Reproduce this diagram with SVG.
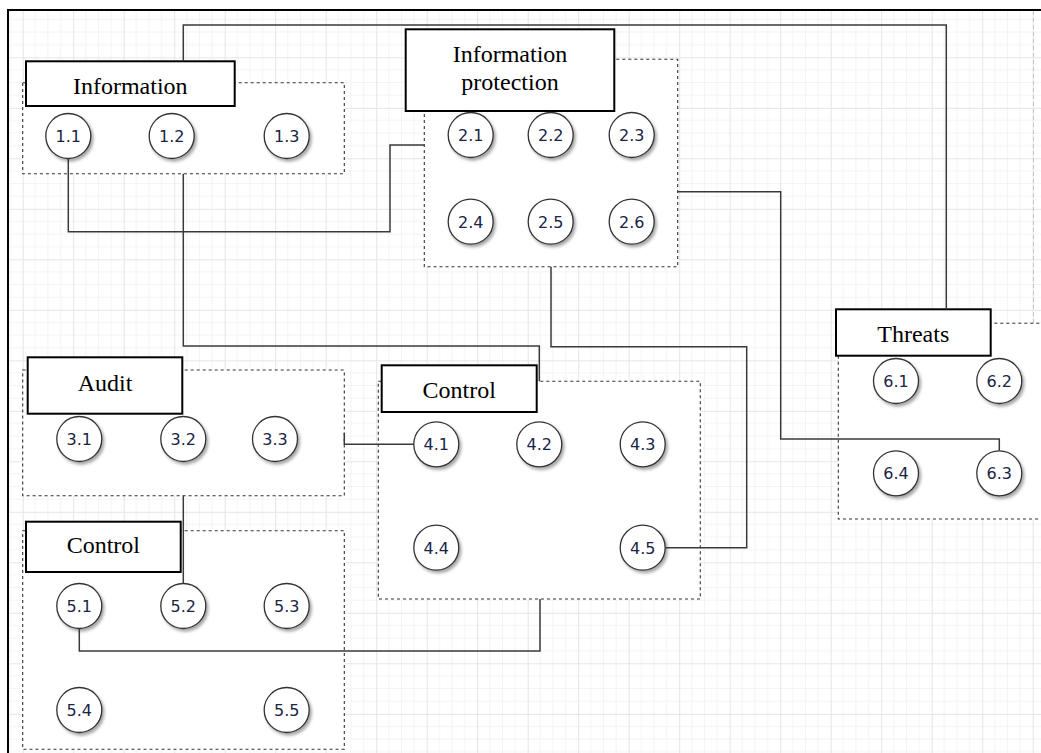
<svg xmlns="http://www.w3.org/2000/svg" width="1041" height="753" viewBox="0 0 1041 753">
  <defs>
    <pattern id="grid" patternUnits="userSpaceOnUse" x="22.7" y="6.8" width="50.5" height="50.5">
      <path d="M12.625 0V50.5M25.25 0V50.5M37.875 0V50.5M0 12.625H50.5M0 25.25H50.5M0 37.875H50.5" stroke="#f3f3f3" stroke-width="1" fill="none"/>
      <path d="M0.5 0V50.5M0 0.5H50.5" stroke="#e5e5e5" stroke-width="1" fill="none"/>
    </pattern>
    <filter id="shadow" x="-30%" y="-30%" width="170%" height="170%">
      <feDropShadow dx="2" dy="2.5" stdDeviation="1.4" flood-color="#000" flood-opacity="0.35"/>
    </filter>
  </defs>
  <style>
    .area { fill: #fff; stroke: #333; stroke-width: 1.1; stroke-dasharray: 3 3; }
    .title { fill: #fff; stroke: #000; stroke-width: 2; }
    .title-text { font-family: "Liberation Serif", "Times New Roman", serif; font-size: 24px; fill: #000; text-anchor: middle; }
    .item circle { fill: #fff; stroke: #333; stroke-width: 1.3; filter: url(#shadow); }
    .item text { font-family: "DejaVu Sans", Verdana, sans-serif; font-size: 16px; fill: #1a2446; text-anchor: middle; }
    .link { fill: none; stroke: #3a3a3a; stroke-width: 1.5; }
  </style>

  <!-- canvas -->
  <rect width="1041" height="753" fill="#fff"/>
  <rect x="8" y="10" width="1033" height="743" fill="url(#grid)"/>
  <path d="M8 753V10H1041" fill="none" stroke="#000" stroke-width="2"/>
  <path d="M1033.5 11V323" fill="none" stroke="#c4c4c4" stroke-width="1" stroke-dasharray="4 3"/>

  <!-- Information -->
  <g id="information">
    <rect class="area" x="22.7" y="82.7" width="321.6" height="91"/>
    <rect class="title" x="26" y="61.3" width="208.7" height="44.7"/>
    <text class="title-text" x="130.3" y="94">Information</text>
    <g id="n1-1" class="item"><circle cx="68.3" cy="136" r="22.5"/><text x="68.3" y="141.8">1.1</text></g>
    <g id="n1-2" class="item"><circle cx="171.7" cy="136" r="22.5"/><text x="171.7" y="141.8">1.2</text></g>
    <g id="n1-3" class="item"><circle cx="286.7" cy="136" r="22.5"/><text x="286.7" y="141.8">1.3</text></g>
  </g>

  <!-- Information protection -->
  <g id="information-protection">
    <rect class="area" x="424.3" y="59.3" width="253.4" height="207.4"/>
    <rect class="title" x="405.7" y="29.3" width="208.6" height="81.7"/>
    <text class="title-text" x="510" y="62">Information</text>
    <text class="title-text" x="510" y="90">protection</text>
    <g id="n2-1" class="item"><circle cx="470.7" cy="135" r="22.5"/><text x="470.7" y="140.8">2.1</text></g>
    <g id="n2-2" class="item"><circle cx="550.7" cy="135" r="22.5"/><text x="550.7" y="140.8">2.2</text></g>
    <g id="n2-3" class="item"><circle cx="631.7" cy="135" r="22.5"/><text x="631.7" y="140.8">2.3</text></g>
    <g id="n2-4" class="item"><circle cx="470.7" cy="221.7" r="22.5"/><text x="470.7" y="227.5">2.4</text></g>
    <g id="n2-5" class="item"><circle cx="550.7" cy="221.7" r="22.5"/><text x="550.7" y="227.5">2.5</text></g>
    <g id="n2-6" class="item"><circle cx="631.7" cy="221.7" r="22.5"/><text x="631.7" y="227.5">2.6</text></g>
  </g>

  <!-- Audit -->
  <g id="audit">
    <rect class="area" x="22.7" y="370" width="321.6" height="125.7"/>
    <rect class="title" x="27.7" y="357.3" width="154.6" height="56.4"/>
    <text class="title-text" x="105" y="390.7">Audit</text>
    <g id="n3-1" class="item"><circle cx="79.3" cy="439" r="22.5"/><text x="79.3" y="444.8">3.1</text></g>
    <g id="n3-2" class="item"><circle cx="183.3" cy="439" r="22.5"/><text x="183.3" y="444.8">3.2</text></g>
    <g id="n3-3" class="item"><circle cx="275" cy="439" r="22.5"/><text x="275" y="444.8">3.3</text></g>
  </g>

  <!-- Control (4.x) -->
  <g id="control-4">
    <rect class="area" x="378.3" y="381.3" width="322" height="217.7"/>
    <rect class="title" x="381.7" y="365.3" width="155" height="46.7"/>
    <text class="title-text" x="459.2" y="397.7">Control</text>
    <g id="n4-1" class="item"><circle cx="436.3" cy="444.3" r="22.5"/><text x="436.3" y="450.1">4.1</text></g>
    <g id="n4-2" class="item"><circle cx="539.3" cy="444.3" r="22.5"/><text x="539.3" y="450.1">4.2</text></g>
    <g id="n4-3" class="item"><circle cx="642.7" cy="444.3" r="22.5"/><text x="642.7" y="450.1">4.3</text></g>
    <g id="n4-4" class="item"><circle cx="436.3" cy="547.7" r="22.5"/><text x="436.3" y="553.5">4.4</text></g>
    <g id="n4-5" class="item"><circle cx="642.7" cy="547.7" r="22.5"/><text x="642.7" y="553.5">4.5</text></g>
  </g>

  <!-- Control (5.x) -->
  <g id="control-5">
    <rect class="area" x="22.7" y="530.7" width="321.6" height="218.6"/>
    <rect class="title" x="26" y="521.7" width="154.7" height="50.3"/>
    <text class="title-text" x="103.3" y="553.3">Control</text>
    <g id="n5-1" class="item"><circle cx="79.3" cy="606" r="22.5"/><text x="79.3" y="611.8">5.1</text></g>
    <g id="n5-2" class="item"><circle cx="183.3" cy="606" r="22.5"/><text x="183.3" y="611.8">5.2</text></g>
    <g id="n5-3" class="item"><circle cx="286.7" cy="606" r="22.5"/><text x="286.7" y="611.8">5.3</text></g>
    <g id="n5-4" class="item"><circle cx="79.3" cy="710" r="22.5"/><text x="79.3" y="715.8">5.4</text></g>
    <g id="n5-5" class="item"><circle cx="286.7" cy="710" r="22.5"/><text x="286.7" y="715.8">5.5</text></g>
  </g>

  <!-- Threats -->
  <g id="threats">
    <rect class="area" x="838.3" y="323.3" width="215" height="195.7"/>
    <rect class="title" x="836" y="309.3" width="154.7" height="46.4"/>
    <text class="title-text" x="913.3" y="341.7">Threats</text>
    <g id="n6-1" class="item"><circle cx="896" cy="381" r="22.5"/><text x="896" y="386.8">6.1</text></g>
    <g id="n6-2" class="item"><circle cx="999.3" cy="381" r="22.5"/><text x="999.3" y="386.8">6.2</text></g>
    <g id="n6-4" class="item"><circle cx="896" cy="473.3" r="22.5"/><text x="896" y="479.1">6.4</text></g>
    <g id="n6-3" class="item"><circle cx="999.3" cy="473.3" r="22.5"/><text x="999.3" y="479.1">6.3</text></g>
  </g>

  <!-- connectors -->
  <g id="connectors">
    <path class="link" d="M183.3 61.3V25H946.3V309.3" stroke="#111"/>
    <path class="link" d="M68.3 158.5V231.7H390V145H424.3"/>
    <path class="link" d="M183.3 173.7V346H539.3V381.3"/>
    <path class="link" d="M551 266.7V346.7H746.7V547.7H665.2"/>
    <path class="link" d="M677.7 191.7H780.7V439H999.3V450.8"/>
    <path class="link" d="M344.3 433V444.3H413.8"/>
    <path class="link" d="M183.3 495.7V583.5"/>
    <path class="link" d="M79.3 628.5V651H540V599"/>
  </g>
</svg>
